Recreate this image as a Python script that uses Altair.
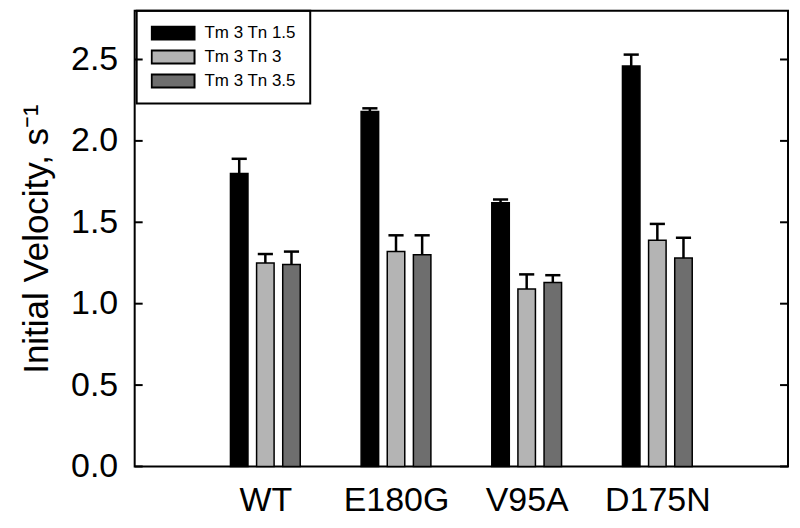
import altair as alt
import pandas as pd

groups = ["WT", "E180G", "V95A", "D175N"]
series = ["Tm 3 Tn 1.5", "Tm 3 Tn 3", "Tm 3 Tn 3.5"]
colors = ["#000000", "#b4b4b4", "#6e6e6e"]

tn15 = [1.80, 2.18, 1.62, 2.46]
tn15_err = [0.09, 0.02, 0.02, 0.07]
tn3 = [1.25, 1.32, 1.09, 1.39]
tn3_err = [0.055, 0.10, 0.09, 0.10]
tn35 = [1.24, 1.30, 1.13, 1.28]
tn35_err = [0.08, 0.12, 0.045, 0.125]

y_ticks = [0.0, 0.5, 1.0, 1.5, 2.0, 2.5]

rows = []
for si, (s, vals, errs) in enumerate(zip(series, [tn15, tn3, tn35], [tn15_err, tn3_err, tn35_err])):
    for gi, g in enumerate(groups):
        rows.append({"group": g, "gpos": gi + 1, "series": s, "sidx": si,
                     "value": vals[gi], "err": errs[gi]})
df = pd.DataFrame(rows)
tick_df = pd.DataFrame({"t": y_ticks})

W, H = 655, 457
FONT = "Liberation Sans"
YTITLE = "Initial Velocity, s⁻¹"

xscale = alt.Scale(domain=[0, 5], nice=False, zero=False)
yscale = alt.Scale(domain=[0, 2.8], nice=False)

label_expr = "[" + ",".join(["''"] + ["'%s'" % g for g in groups]) + "][datum.value]"

base = alt.Chart(df).transform_calculate(
    xc="datum.gpos + (datum.sidx - 1) * 0.2",
).transform_calculate(
    xl="datum.xc - 0.067",
    xr="datum.xc + 0.067",
    cl="datum.xc - 0.058",
    cr="datum.xc + 0.058",
    top="datum.value + datum.err",
)

bars = base.mark_rect(stroke="black", strokeWidth=1.5).encode(
    x=alt.X("xl:Q", scale=xscale, title=None,
            axis=alt.Axis(values=[1, 2, 3, 4], labelExpr=label_expr, ticks=False,
                          domain=False, grid=False, labelFontSize=34, labelPadding=17,
                          labelColor="black", labelFont=FONT)),
    x2="xr:Q",
    y=alt.Y("value:Q", scale=yscale, title=YTITLE,
            axis=alt.Axis(values=y_ticks, format=".1f", ticks=False, domain=False,
                          grid=False, labelFontSize=34, labelPadding=17,
                          labelColor="black", labelFont=FONT,
                          titleFontSize=35, titleFontWeight="normal", titleFont=FONT,
                          titleColor="black", titlePadding=16)),
    y2=alt.datum(0),
    fill=alt.Fill("series:N", scale=alt.Scale(domain=series, range=colors),
                  legend=alt.Legend(title=None, orient="none", legendX=2, legendY=0,
                                    symbolType="M-1,-0.3H1V0.3H-1Z", symbolSize=1849,
                                    symbolStrokeColor="black", symbolStrokeWidth=2,
                                    symbolOpacity=1, labelFontSize=17, labelFont=FONT,
                                    labelColor="black", labelOffset=9, clipHeight=17,
                                    strokeColor="black", padding=14, rowPadding=6)),
)

whisk = base.mark_rule(color="black", strokeWidth=2.5).encode(
    x=alt.X("xc:Q", scale=xscale, title=None),
    y=alt.Y("value:Q", scale=yscale, title=YTITLE),
    y2="top:Q",
)

caps = base.mark_rule(color="black", strokeWidth=2.5).encode(
    x=alt.X("cl:Q", scale=xscale, title=None),
    x2="cr:Q",
    y=alt.Y("top:Q", scale=yscale, title=YTITLE),
)

lticks = alt.Chart(tick_df).mark_rule(color="black", strokeWidth=2).encode(
    y=alt.Y("t:Q", scale=yscale, title=YTITLE),
    x=alt.value(0), x2=alt.value(8),
)
rticks = alt.Chart(tick_df).mark_rule(color="black", strokeWidth=2).encode(
    y=alt.Y("t:Q", scale=yscale, title=YTITLE),
    x=alt.value(W - 8), x2=alt.value(W),
)

chart = alt.layer(bars, whisk, caps, lticks, rticks).properties(
    width=W, height=H,
    autosize=alt.AutoSizeParams(type="none"),
    padding={"left": 127, "top": 2, "right": 4, "bottom": 55},
    background="white",
).configure_view(
    stroke="black", strokeWidth=2
).configure_legend(
    strokeWidth=2
)

chart.save("out.html", embed_options={"renderer": "svg", "actions": False})
